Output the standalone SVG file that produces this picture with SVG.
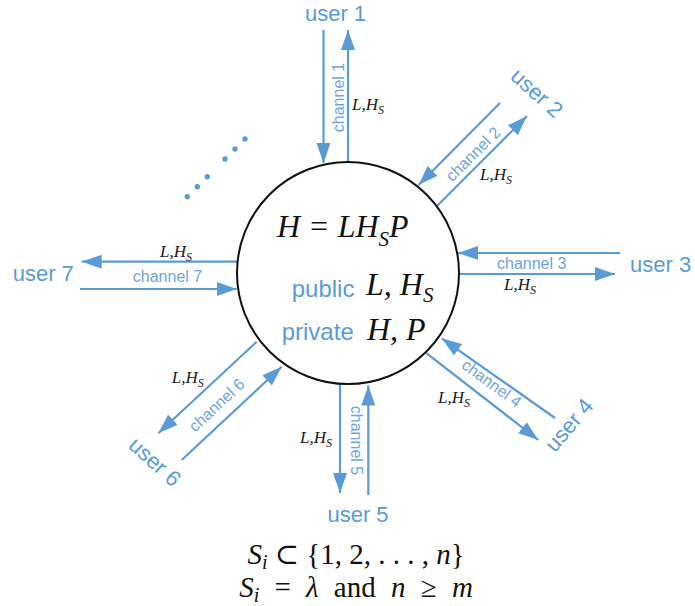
<svg xmlns="http://www.w3.org/2000/svg" width="695" height="606" viewBox="0 0 695 606">
<style>
.ln{stroke:#5B9BD5;stroke-width:2.2;fill:none;marker-end:url(#ah)}
.usr{font-family:"Liberation Sans",Arial,sans-serif;font-size:22px;fill:#5B9BD5}
.ch{font-family:"Liberation Sans",Arial,sans-serif;font-size:16px;fill:#6FA5DA}
.lh{font-family:"Liberation Serif","Times New Roman",serif;font-style:italic;font-size:17px;fill:#1a1a1a}
.big{font-family:"Liberation Serif","Times New Roman",serif;font-style:italic;font-size:32px;fill:#111}
.lbl{font-family:"Liberation Sans",Arial,sans-serif;font-size:24px;fill:#5B9BD5}
.tex{font-family:"Liberation Serif","DejaVu Serif",serif;font-size:29px;fill:#111}
.dot{fill:#5B9BD5}
</style>
<defs>
<marker id="ah" markerUnits="userSpaceOnUse" markerWidth="20" markerHeight="15" refX="20" refY="7" orient="auto" viewBox="0 0 20 14"><path d="M0,0 L20,7 L0,14 z" fill="#5B9BD5"/></marker>
</defs>
<rect width="695" height="606" fill="#fff"/>

<g id="connectors">
<line class="ln" x1="323.5" y1="30" x2="323.5" y2="163"/>
<line class="ln" x1="348" y1="162" x2="348" y2="30"/>
<line class="ln" x1="500" y1="103" x2="418.5" y2="185"/>
<line class="ln" x1="437" y1="206" x2="527" y2="116"/>
<line class="ln" x1="620" y1="253" x2="458" y2="253"/>
<line class="ln" x1="459" y1="274" x2="615" y2="274"/>
<line class="ln" x1="555" y1="418" x2="441.7" y2="338.3"/>
<line class="ln" x1="426.7" y1="353.3" x2="538.3" y2="440"/>
<line class="ln" x1="340" y1="384" x2="340" y2="493"/>
<line class="ln" x1="368.3" y1="495" x2="368.3" y2="385.5"/>
<line class="ln" x1="256.7" y1="341.7" x2="158.3" y2="433.3"/>
<line class="ln" x1="181.7" y1="460" x2="281.7" y2="366.7"/>
<line class="ln" x1="237" y1="261.7" x2="81.7" y2="261.7"/>
<line class="ln" x1="80" y1="289" x2="236.7" y2="289"/>

<text class="ch" text-anchor="middle" dominant-baseline="central" transform="translate(338,97.5) rotate(-90)">channel 1</text>
<text class="ch" text-anchor="middle" dominant-baseline="central" transform="translate(473,154) rotate(-45)">channel 2</text>
<text class="ch" x="531.7" y="269.3" text-anchor="middle">channel 3</text>
<text class="ch" text-anchor="middle" dominant-baseline="central" transform="translate(491.7,383.3) rotate(36)">channel 4</text>
<text class="ch" text-anchor="middle" dominant-baseline="central" transform="translate(356,440.5) rotate(90)">channel 5</text>
<text class="ch" text-anchor="middle" dominant-baseline="central" transform="translate(216.7,405) rotate(-43)">channel 6</text>
<text class="ch" x="167.5" y="282.3" text-anchor="middle">channel 7</text>

<text class="lh" x="352" y="110">L,H<tspan font-size="12" dy="4">S</tspan></text>
<text class="lh" x="480" y="180">L,H<tspan font-size="12" dy="4">S</tspan></text>
<text class="lh" x="504" y="290">L,H<tspan font-size="12" dy="4">S</tspan></text>
<text class="lh" x="438" y="403">L,H<tspan font-size="12" dy="4">S</tspan></text>
<text class="lh" x="300" y="443">L,H<tspan font-size="12" dy="4">S</tspan></text>
<text class="lh" x="171.7" y="383">L,H<tspan font-size="12" dy="4">S</tspan></text>
<text class="lh" x="160" y="257">L,H<tspan font-size="12" dy="4">S</tspan></text>
</g>

<g id="center">
<circle cx="348" cy="273" r="111" fill="none" stroke="#111" stroke-width="2"/>
<text class="big" x="277" y="237">H = LH<tspan font-size="21" dy="9">S</tspan><tspan dy="-9">P</tspan></text>
<text class="lbl" x="291.7" y="297">public</text>
<text class="big" x="366" y="295">L, H<tspan font-size="21" dy="7">S</tspan></text>
<text class="lbl" x="281.7" y="340">private</text>
<text class="big" x="367" y="340">H, P</text>
</g>

<g id="user1"><text class="usr" x="335.5" y="21" text-anchor="middle">user 1</text></g>
<g id="user2"><text class="usr" text-anchor="middle" dominant-baseline="central" transform="translate(537,93) rotate(42)">user 2</text></g>
<g id="user3"><text class="usr" x="630" y="272">user 3</text></g>
<g id="user4"><text class="usr" text-anchor="middle" dominant-baseline="central" transform="translate(569,425) rotate(-50)">user 4</text></g>
<g id="user5"><text class="usr" x="358" y="522" text-anchor="middle">user 5</text></g>
<g id="user6"><text class="usr" text-anchor="middle" dominant-baseline="central" transform="translate(155,462) rotate(42)">user 6</text></g>
<g id="user7"><text class="usr" x="12.7" y="281">user 7</text></g>

<g id="ellipsis">
<circle class="dot" cx="187.3" cy="196.7" r="2.7"/>
<circle class="dot" cx="197.3" cy="186.7" r="2.7"/>
<circle class="dot" cx="207.3" cy="176.7" r="2.7"/>
<circle class="dot" cx="225" cy="159" r="2.7"/>
<circle class="dot" cx="235" cy="149" r="2.7"/>
<circle class="dot" cx="245" cy="139" r="2.7"/>
</g>

<g id="formula">
<text class="tex" x="356" y="564" text-anchor="middle"><tspan font-style="italic">S</tspan><tspan font-size="20" dy="5" font-style="italic">i</tspan><tspan dy="-5"> ⊂ {1, 2, . . . , </tspan><tspan font-style="italic">n</tspan>}</text>
<text class="tex" x="356" y="597" text-anchor="middle" word-spacing="8"><tspan font-style="italic">S</tspan><tspan font-size="20" dy="5" font-style="italic">i</tspan><tspan dy="-5"> = </tspan><tspan font-style="italic">λ</tspan> and <tspan font-style="italic">n</tspan> ≥ <tspan font-style="italic">m</tspan></text>
</g>
</svg>
